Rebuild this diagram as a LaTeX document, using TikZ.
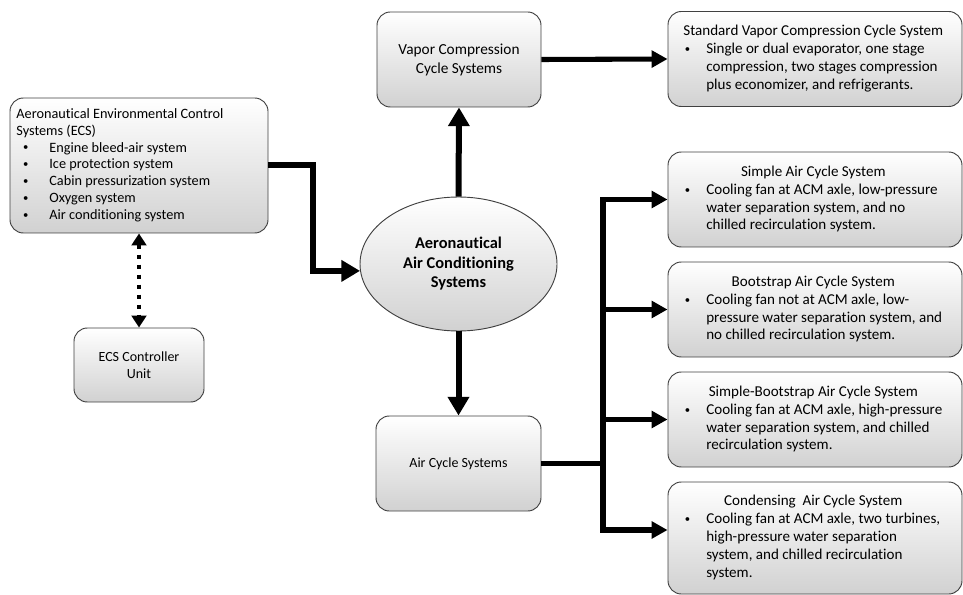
\documentclass[tikz,border=0pt]{standalone}
\usepackage{fontspec}
\setmainfont{Carlito}[Ligatures=NoCommon]
\usetikzlibrary{shapes.geometric,arrows.meta,positioning,calc}

\newcommand{\bul}{\hspace{5pt}\raisebox{0.8pt}{\fontsize{8}{8}\selectfont\textbullet}}

\begin{document}
\begin{tikzpicture}[
    x=0.75pt, y=-0.75pt,
    box/.style={rectangle, draw=black!75, line width=0.7pt, top color=white, bottom color=black!18, rounded corners=10pt, align=center, font=\fontsize{10.5}{14}\selectfont},
    infobox/.style={box, minimum width=220.5pt, minimum height=71.25pt, font=\fontsize{11.3}{13.4}\selectfont},
    hub/.style={ellipse, draw=black!75, line width=0.7pt, top color=white, bottom color=black!18, minimum width=147.75pt, minimum height=100.5pt, align=center, font=\fontsize{12.3}{14.6}\selectfont\bfseries},
    bigarrow/.style={-{Triangle[length=14pt,width=15.5pt]}, line width=4.5pt},
    arrow/.style={-{Triangle[length=12pt,width=12.5pt]}, line width=3.8pt},
    link/.style={line width=3.8pt},
    dotarrow/.style={{Triangle[length=9pt,width=11pt]}-{Triangle[length=9pt,width=11pt]}, line width=3.5pt, dash pattern=on 3.5pt off 4pt}
]
    \useasboundingbox (0,0) rectangle (963,595);

    % Left side
    \node[box, minimum width=193.5pt, minimum height=101.25pt, font=\fontsize{10.7}{12.6}\selectfont] (ecs) at (139,165.5) {
        \begin{tabular}{@{}p{24.75pt}@{}p{156.75pt}@{}}
        \multicolumn{2}{@{}l@{}}{Aeronautical Environmental Control}\\
        \multicolumn{2}{@{}l@{}}{Systems (ECS)}\\
        \bul & Engine bleed-air system\\
        \bul & Ice protection system\\
        \bul & Cabin pressurization system\\
        \bul & Oxygen system\\
        \bul & Air conditioning system
        \end{tabular}
    };
    \node[box, minimum width=97.5pt, minimum height=55.5pt, font=\fontsize{10.5}{12.7}\selectfont] (ctrl) at (139,365) {ECS Controller\\Unit};

    % Middle
    \node[hub] (acs) at (458.5,264) {Aeronautical\\Air Conditioning\\Systems};
    \node[box, minimum width=123pt, minimum height=71.25pt, font=\fontsize{11.5}{14.2}\selectfont] (vcs) at (459,59.5) {Vapor Compression\\Cycle Systems};
    \node[box, minimum width=123.75pt, minimum height=71.25pt] (air) at (458.5,463.5) {Air Cycle Systems};

    % Right side
    \node[infobox] (std) at (815,59) {
        \begin{tabular}{@{}p{21pt}@{}p{181.5pt}@{}}
        \multicolumn{2}{@{}c@{}}{Standard Vapor Compression Cycle System}\\
        \bul & Single or dual evaporator, one stage\\
        & compression, two stages compression\\
        & plus economizer, and refrigerants.
        \end{tabular}
    };
    \node[infobox] (simple) at (815,199.5) {
        \begin{tabular}{@{}p{21pt}@{}p{181.5pt}@{}}
        \multicolumn{2}{@{}c@{}}{Simple Air Cycle System}\\
        \bul & Cooling fan at ACM axle, low-pressure\\
        & water separation system, and no\\
        & chilled recirculation system.
        \end{tabular}
    };
    \node[infobox] (boot) at (815,309.5) {
        \begin{tabular}{@{}p{21pt}@{}p{181.5pt}@{}}
        \multicolumn{2}{@{}c@{}}{Bootstrap Air Cycle System}\\
        \bul & Cooling fan not at ACM axle, low-\\
        & pressure water separation system, and\\
        & no chilled recirculation system.
        \end{tabular}
    };
    \node[infobox] (sboot) at (815,419.5) {
        \begin{tabular}{@{}p{21pt}@{}p{181.5pt}@{}}
        \multicolumn{2}{@{}c@{}}{Simple-Bootstrap Air Cycle System}\\
        \bul & Cooling fan at ACM axle, high-pressure\\
        & water separation system, and chilled\\
        & recirculation system.
        \end{tabular}
    };
    \node[infobox, minimum height=84pt] (cond) at (815,538) {
        \begin{tabular}{@{}p{21pt}@{}p{181.5pt}@{}}
        \multicolumn{2}{@{}c@{}}{Condensing~ Air Cycle System}\\
        \bul & Cooling fan at ACM axle, two turbines,\\
        & high-pressure water separation\\
        & system, and chilled recirculation\\
        & system.
        \end{tabular}
    };

    % Connectors
    \coordinate (elbow) at (313,0);
    \coordinate (trunk) at (603,0);
    \coordinate (condin) at ([yshift=6pt]cond.west);
    \draw[dotarrow] (ecs.south) -- (ctrl.north);
    \draw[bigarrow] (ecs.east) -- (ecs.east -| elbow) |- (acs.184);
    \draw[bigarrow] (acs.north) -- (vcs.south);
    \draw[arrow] (vcs.east) -- (std.west);
    \draw[bigarrow] (acs.south) -- (air.north);
    \draw[link] (air.east) -- (air.east -| trunk);
    \draw[arrow] (trunk |- condin) |- (simple.west);
    \draw[arrow] (trunk |- simple.west) |- (condin);
    \foreach \b in {boot,sboot}
        \draw[arrow] (trunk |- \b.west) -- (\b.west);
\end{tikzpicture}
\end{document}
